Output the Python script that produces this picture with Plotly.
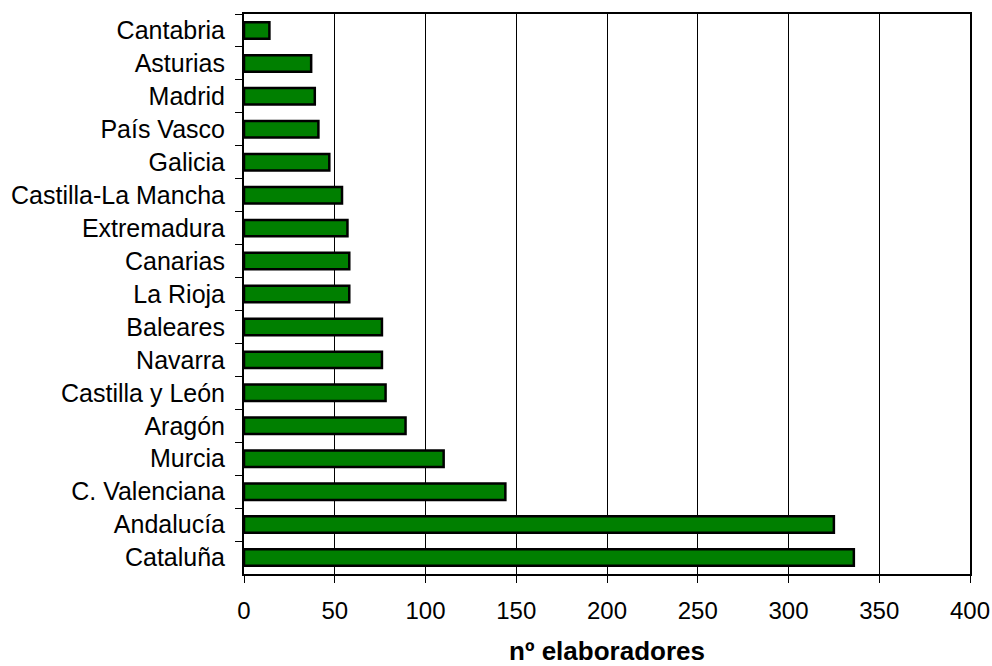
import plotly.graph_objects as go

# Comunidades autónomas, de arriba abajo
regiones = [
    "Cantabria", "Asturias", "Madrid", "País Vasco", "Galicia",
    "Castilla-La Mancha", "Extremadura", "Canarias", "La Rioja", "Baleares",
    "Navarra", "Castilla y León", "Aragón", "Murcia", "C. Valenciana",
    "Andalucía", "Cataluña",
]
elaboradores = [14, 37, 39, 41, 47, 54, 57, 58, 58, 76, 76, 78, 89, 110, 144, 325, 336]

x_ticks = [0, 50, 100, 150, 200, 250, 300, 350, 400]
x_titulo = "nº elaboradores"

FONT = "Liberation Sans, Arial, sans-serif"

fig = go.Figure(
    go.Bar(
        x=elaboradores,
        y=regiones,
        orientation="h",
        marker=dict(color="#007F00", line=dict(color="black", width=2.5)),
    )
)

fig.update_layout(
    width=992,
    height=666,
    margin=dict(l=244, r=22, t=14, b=92),
    paper_bgcolor="white",
    plot_bgcolor="white",
    bargap=0.5,
    showlegend=False,
    font=dict(family=FONT, color="black"),
)

fig.update_xaxes(
    range=[0, 400],
    tickvals=x_ticks,
    ticktext=[str(v) for v in x_ticks],
    tickfont=dict(size=24),
    ticks="outside",
    ticklen=7,
    tickcolor="black",
    ticklabelstandoff=7,
    showgrid=True,
    gridcolor="black",
    gridwidth=1,
    zeroline=False,
    showline=True,
    linecolor="black",
    linewidth=2,
    mirror=True,
    automargin=False,
    title=dict(text=f"<b>{x_titulo}</b>", font=dict(size=26), standoff=31),
)

fig.update_yaxes(
    categoryorder="array",
    categoryarray=regiones,
    autorange="reversed",
    tickfont=dict(size=25),
    ticks="outside",
    ticklen=7,
    tickcolor="black",
    tickson="boundaries",
    ticklabelstandoff=12,
    showgrid=False,
    showline=True,
    linecolor="black",
    linewidth=2,
    mirror=True,
    automargin=False,
)

fig.write_html("out.html")
